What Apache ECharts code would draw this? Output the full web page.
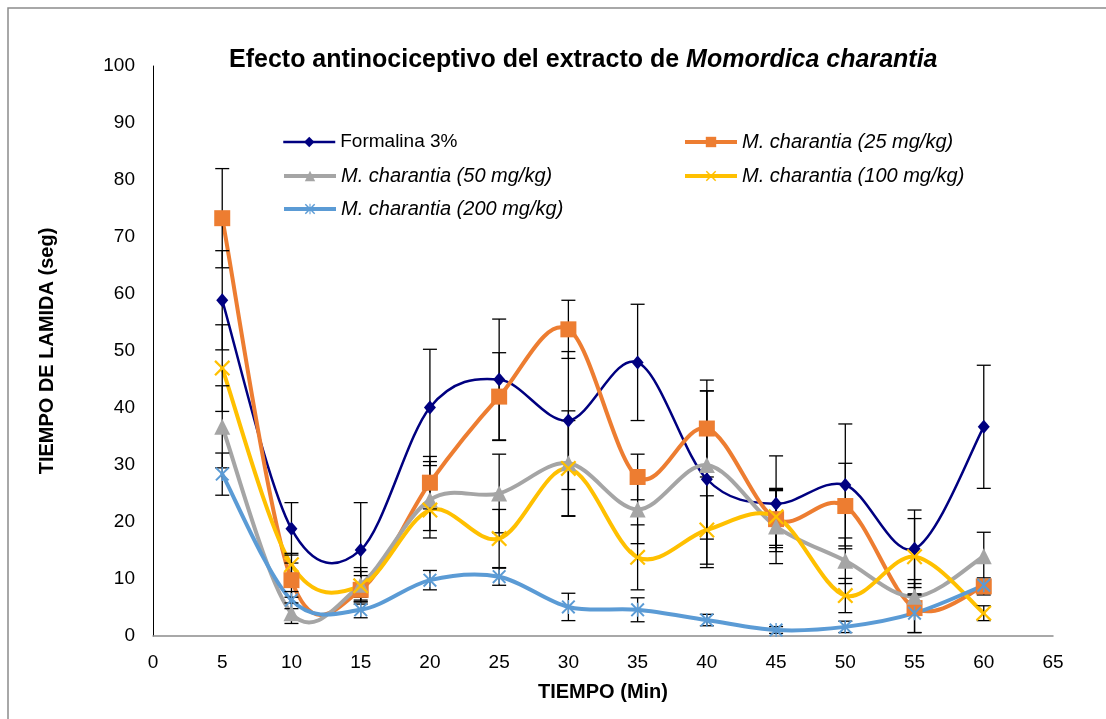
<!DOCTYPE html>
<html>
<head>
<meta charset="utf-8">
<script src="https://cdn.jsdelivr.net/npm/echarts@6/dist/echarts.min.js"></script>
<style>
  html, body { margin: 0; padding: 0; background: #fff; }
  #chart { width: 1106px; height: 719px; }
</style>
</head>
<body>
<div id="chart"></div>
<script>
// Sampling times (min)
const times = [5, 10, 15, 20, 25, 30, 35, 40, 45, 50, 55, 60];

// Mean licking time (s) and error (±) per group
const formalina    = [58.9, 18.8, 15.1, 40.1, 45.0, 37.8, 48.0, 27.5, 23.2, 26.5, 15.3, 36.7];
const formalinaErr = [8.7, 4.6, 8.3, 10.2, 10.6, 12.1, 10.2, 15.5, 8.4, 10.7, 6.8, 10.8];

const mc25    = [73.3, 9.8, 8.1, 26.9, 42.0, 53.8, 27.9, 36.4, 20.5, 22.8, 4.9, 8.7];
const mc25Err = [8.7, 3.0, 2.5, 4.6, 7.7, 5.1, 4.0, 8.5, 5.0, 7.5, 4.3, 1.5];

const mc50    = [36.7, 4.0, 9.0, 23.9, 25.0, 30.3, 22.2, 30.0, 19.2, 13.2, 6.9, 14.0];
const mc50Err = [7.2, 1.8, 3.0, 6.7, 6.9, 9.2, 6.0, 13.0, 6.5, 4.0, 3.0, 4.2];

const mc100    = [47.0, 12.5, 8.8, 22.1, 17.1, 29.4, 13.8, 18.6, 20.9, 7.1, 13.9, 4.0];
const mc100Err = [7.6, 2.0, 2.5, 3.6, 5.1, 8.4, 5.7, 6.0, 5.0, 3.0, 6.7, 1.3];

const mc200    = [28.4, 6.3, 4.6, 9.8, 10.4, 5.1, 4.6, 2.8, 1.05, 1.6, 4.0, 8.9];
const mc200Err = [3.7, 1.5, 1.4, 1.7, 1.5, 2.4, 2.1, 1.0, 0.6, 1.0, 3.4, 1.0];

const seriesNames = [
  'Formalina 3%',
  'M. charantia (25 mg/kg)',
  'M. charantia (50 mg/kg)',
  'M. charantia (100 mg/kg)',
  'M. charantia (200 mg/kg)'
];

const FONT = '"Liberation Sans", Arial, sans-serif';

// Marker shapes
const X_PATH = 'path://M0,1 L1,0 L5,4 L9,0 L10,1 L6,5 L10,9 L9,10 L5,6 L1,10 L0,9 L4,5 Z';
const STAR_PATH = 'path://M0,1 L1,0 L5,4 L9,0 L10,1 L6,5 L10,9 L9,10 L5,6 L1,10 L0,9 L4,5 Z M4.5,0 L5.5,0 L5.5,10 L4.5,10 Z';

const groups = [
  { name: seriesNames[0], values: formalina, errs: formalinaErr, color: '#000080', width: 2.5, symbol: 'diamond', size: [12, 14] },
  { name: seriesNames[1], values: mc25, errs: mc25Err, color: '#ED7D31', width: 4, symbol: 'rect', size: 16 },
  { name: seriesNames[2], values: mc50, errs: mc50Err, color: '#A5A5A5', width: 4, symbol: 'triangle', size: 16 },
  { name: seriesNames[3], values: mc100, errs: mc100Err, color: '#FFC000', width: 4, symbol: X_PATH, size: 16 },
  { name: seriesNames[4], values: mc200, errs: mc200Err, color: '#5B9BD5', width: 4, symbol: STAR_PATH, size: 14 }
];

// Vertical error bars with caps
function errorBarSeries(g) {
  return {
    type: 'custom',
    name: g.name + ' err',
    z: 3,
    silent: true,
    data: times.map((t, i) => [t, g.values[i] - g.errs[i], g.values[i] + g.errs[i]]),
    encode: { x: 0, y: [1, 2] },
    renderItem: function (params, api) {
      const lo = api.coord([api.value(0), api.value(1)]);
      const hi = api.coord([api.value(0), api.value(2)]);
      const cap = 7;
      const style = { stroke: '#000', lineWidth: 1.3, fill: null };
      return {
        type: 'group',
        children: [
          { type: 'line', shape: { x1: lo[0], y1: lo[1], x2: hi[0], y2: hi[1] }, style: style },
          { type: 'line', shape: { x1: lo[0] - cap, y1: lo[1], x2: lo[0] + cap, y2: lo[1] }, style: style },
          { type: 'line', shape: { x1: hi[0] - cap, y1: hi[1], x2: hi[0] + cap, y2: hi[1] }, style: style }
        ]
      };
    }
  };
}

// Smoothed connecting curve: one cubic Bezier per segment, tangents from neighbours
function curveSeries(g) {
  const n = times.length;
  return {
    type: 'custom',
    name: g.name + ' curve',
    z: 2,
    silent: true,
    data: times.map((t, i) => [t, g.values[i]]),
    encode: { x: 0, y: 1 },
    renderItem: function (params, api) {
      const i = params.dataIndex;
      if (i >= n - 1) return { type: 'group', children: [] };
      const pt = (j) => {
        const c = Math.max(0, Math.min(n - 1, j));
        return api.coord([times[c], g.values[c]]);
      };
      const p0 = pt(i - 1), p1 = pt(i), p2 = pt(i + 1), p3 = pt(i + 2);
      const k = 1 / 6;
      return {
        type: 'bezierCurve',
        shape: {
          x1: p1[0], y1: p1[1],
          x2: p2[0], y2: p2[1],
          cpx1: p1[0] + (p2[0] - p0[0]) * k, cpy1: p1[1] + (p2[1] - p0[1]) * k,
          cpx2: p2[0] - (p3[0] - p1[0]) * k, cpy2: p2[1] - (p3[1] - p1[1]) * k
        },
        style: { stroke: g.color, lineWidth: g.width, fill: null, lineCap: 'round' }
      };
    }
  };
}

// Markers (line series with hidden stroke, also feeds the legend)
function markerSeries(g) {
  return {
    type: 'line',
    name: g.name,
    z: 4,
    data: times.map((t, i) => [t, g.values[i]]),
    symbol: g.symbol,
    symbolSize: g.size,
    showAllSymbol: true,
    lineStyle: { color: g.color, width: g.width, opacity: 0 },
    itemStyle: { color: g.color, borderWidth: 0 },
    emphasis: { disabled: true }
  };
}

function legendAt(idx, left, centerY) {
  const g = groups[idx];
  const italic = idx !== 0;
  return {
    left: left,
    top: centerY - 11,
    padding: 0,
    itemWidth: 52,
    itemHeight: 13,
    data: [{ name: g.name, textStyle: { fontStyle: italic ? 'italic' : 'normal', fontSize: italic ? 20 : 19 } }],
    lineStyle: { color: g.color, width: g.width, opacity: 1 },
    textStyle: { fontFamily: FONT, fontSize: 19, color: '#000', lineHeight: 22 },
    selectedMode: false
  };
}

const chart = echarts.init(document.getElementById('chart'), null, { renderer: 'canvas' });

chart.setOption({
  animation: false,
  backgroundColor: '#fff',
  graphic: [{
    type: 'rect',
    shape: { x: 8, y: 8, width: 1110, height: 720 },
    style: { fill: null, stroke: '#8c8c8c', lineWidth: 1.5 },
    silent: true
  }],
  title: {
    text: '{a|Efecto antinociceptivo del extracto de }{b|Momordica charantia}',
    left: 229,
    top: 48,
    padding: 0,
    textStyle: {
      rich: {
        a: { fontFamily: FONT, fontSize: 25, fontWeight: 'bold', color: '#000' },
        b: { fontFamily: FONT, fontSize: 25, fontWeight: 'bold', fontStyle: 'italic', color: '#000' }
      }
    }
  },
  legend: [
    legendAt(0, 282, 142),
    legendAt(2, 282, 176),
    legendAt(4, 282, 209),
    legendAt(1, 683, 142),
    legendAt(3, 683, 176)
  ],
  grid: { left: 153, right: 53, top: 66, bottom: 83, containLabel: false },
  xAxis: {
    type: 'value',
    min: 0,
    max: 65,
    interval: 5,
    name: 'TIEMPO (Min)',
    nameLocation: 'middle',
    nameGap: 46,
    nameTextStyle: { fontFamily: FONT, fontSize: 20, fontWeight: 'bold', color: '#000' },
    axisLine: { show: true, lineStyle: { color: '#8c8c8c', width: 1.5 } },
    axisTick: { show: false },
    splitLine: { show: false },
    axisLabel: { fontFamily: FONT, fontSize: 19, color: '#000', margin: 17 }
  },
  yAxis: {
    type: 'value',
    min: 0,
    max: 100,
    interval: 10,
    name: 'TIEMPO DE LAMIDA (seg)',
    nameLocation: 'middle',
    nameRotate: 90,
    nameGap: 96,
    nameTextStyle: { fontFamily: FONT, fontSize: 20, fontWeight: 'bold', color: '#000' },
    axisLine: { show: true, lineStyle: { color: '#000', width: 1 } },
    axisTick: { show: false },
    splitLine: { show: false },
    axisLabel: { fontFamily: FONT, fontSize: 19, color: '#000', margin: 18 }
  },
  series: groups.map(curveSeries)
    .concat(groups.map(errorBarSeries))
    .concat(groups.map(markerSeries))
});
</script>
</body>
</html>
